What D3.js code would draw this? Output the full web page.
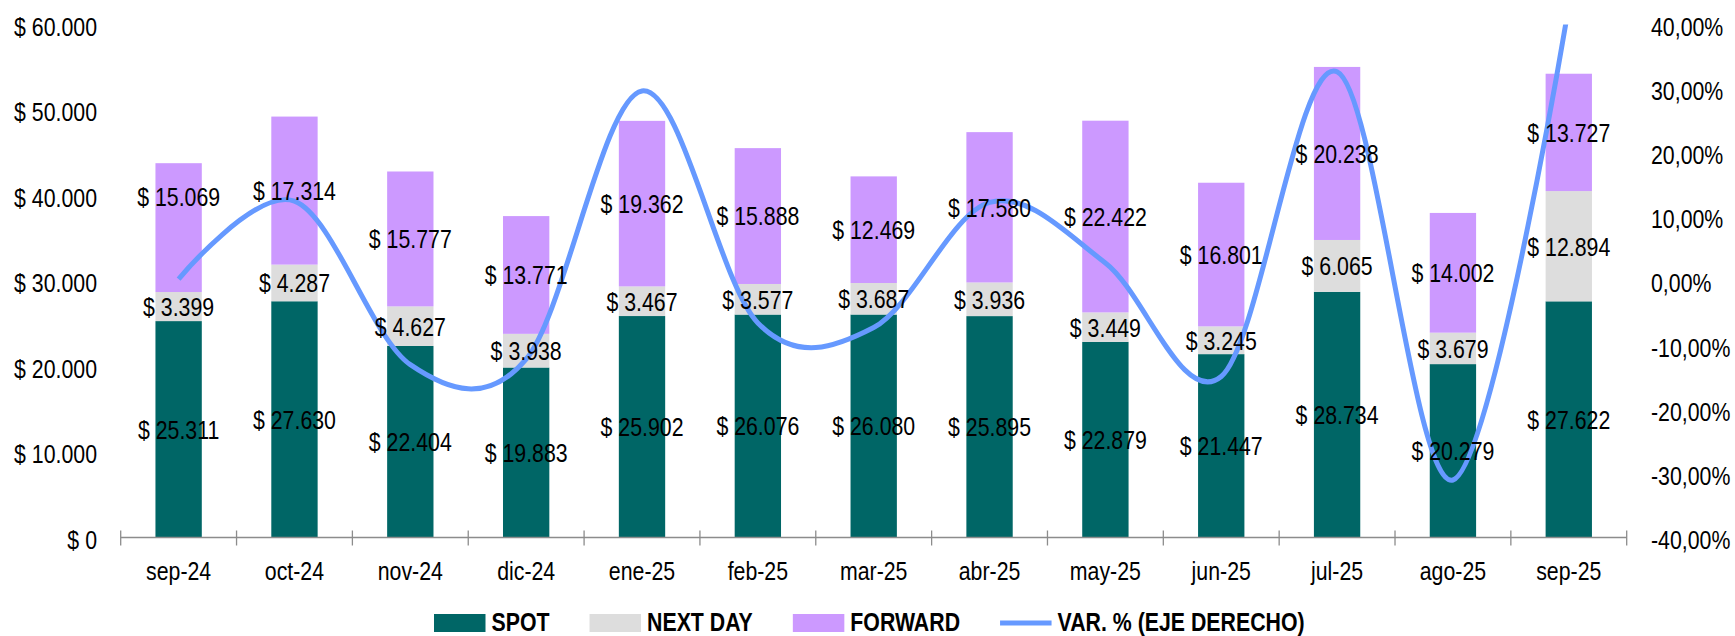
<!DOCTYPE html>
<html>
<head>
<meta charset="utf-8">
<script src="https://cdn.jsdelivr.net/npm/d3@7"></script>
<style>
  html, body { margin: 0; padding: 0; background: #ffffff; }
  svg { display: block; font-family: "Liberation Sans", Arial, sans-serif; }
</style>
</head>
<body>
<svg id="chart" width="1735" height="636"></svg>
<script>
// Monthly traded amounts by settlement type, plus month-over-month variation
const months  = ["sep-24", "oct-24", "nov-24", "dic-24", "ene-25", "feb-25", "mar-25",
                 "abr-25", "may-25", "jun-25", "jul-25", "ago-25", "sep-25"];
const spot    = [25311, 27630, 22404, 19883, 25902, 26076, 26080, 25895, 22879, 21447, 28734, 20279, 27622];
const nextDay = [3399, 4287, 4627, 3938, 3467, 3577, 3687, 3936, 3449, 3245, 6065, 3679, 12894];
const forward = [15069, 17314, 15777, 13771, 19362, 15888, 12469, 17580, 22422, 16801, 20238, 14002, 13727];
// VAR. % in percent
const varPct  = [0.3, 12.45, -13.05, -12.18, 29.63, -6.55, -7.26, 12.25, 2.82, -14.89, 32.64, -31.03, 42.90];

const leftTicks  = [0, 10000, 20000, 30000, 40000, 50000, 60000];
const rightTicks = [-0.4, -0.3, -0.2, -0.1, 0, 0.1, 0.2, 0.3, 0.4];

const seriesKeys   = ["spot", "nextDay", "forward"];
const seriesNames  = {spot: "SPOT", nextDay: "NEXT DAY", forward: "FORWARD"};
const seriesColors = {spot: "#006666", nextDay: "#dddddd", forward: "#cc99ff"};
const lineColor = "#6699ff";
const lineName = "VAR. % (EJE DERECHO)";

const locale = d3.formatLocale({decimal: ",", thousands: ".", grouping: [3], currency: ["$ ", ""], minus: "-"});
const fmtMoney = locale.format("$,.0f");
const fmtPct = locale.format(".2%");

const FONT = 26;      // px
const NARROW = 0.82;  // horizontal condensing of all chart text

const svg = d3.select("#chart");

const x = d3.scaleBand().domain(months).range([120.7, 1626.7]).paddingInner(0.6).paddingOuter(0.3);
const y = d3.scaleLinear().domain([0, 60000]).range([537.5, 24.5]);
const yR = d3.scaleLinear().domain([-0.4, 0.4]).range([537.5, 24.5]);

const rows = months.map((m, i) => ({month: m, spot: spot[i], nextDay: nextDay[i], forward: forward[i], v: varPct[i] / 100}));
const stacked = d3.stack().keys(seriesKeys)(rows);

// Stacked bars
const barLayer = svg.append("g");
stacked.forEach(layer => {
  barLayer.append("g")
    .attr("fill", seriesColors[layer.key])
    .selectAll("rect")
    .data(layer)
    .join("rect")
      .attr("x", d => x(d.data.month))
      .attr("width", x.bandwidth())
      .attr("y", d => y(d[1]))
      .attr("height", d => y(d[0]) - y(d[1]));
});

// Category axis: baseline with crossing ticks at the band boundaries
const axisG = svg.append("g").attr("stroke", "#8c8c8c").attr("stroke-width", 1.3);
const [x0, x1] = x.range();
axisG.append("line").attr("x1", x0).attr("x2", x1).attr("y1", y(0)).attr("y2", y(0));
axisG.selectAll("line.tick")
  .data(d3.range(months.length + 1))
  .join("line")
    .attr("class", "tick")
    .attr("x1", i => x0 + i * x.step())
    .attr("x2", i => x0 + i * x.step())
    .attr("y1", y(0) - 7)
    .attr("y2", y(0) + 8);

function condense(sel) {
  sel.attr("transform", `scale(${NARROW},1)`)
     .attr("font-size", FONT)
     .attr("fill", "#000");
}

// Month labels
const bottomAxis = svg.append("g")
  .attr("transform", `translate(0,${y(0)})`)
  .call(d3.axisBottom(x).tickSize(0).tickPadding(24));
bottomAxis.select(".domain").remove();
bottomAxis.selectAll("text").attr("font-family", null).call(condense);

// Left value axis
const leftAxis = svg.append("g")
  .attr("transform", "translate(97,0)")
  .call(d3.axisLeft(y).tickValues(leftTicks).tickFormat(fmtMoney).tickSize(0).tickPadding(0));
leftAxis.select(".domain").remove();
leftAxis.selectAll("text").attr("font-family", null).attr("dy", "0.42em").call(condense);

// Right percentage axis
const rightAxis = svg.append("g")
  .attr("transform", "translate(1651,0)")
  .call(d3.axisRight(yR).tickValues(rightTicks).tickFormat(fmtPct).tickSize(0).tickPadding(0));
rightAxis.select(".domain").remove();
rightAxis.selectAll("text").attr("font-family", null).attr("dy", "0.42em").call(condense);

// Variation line, smoothed and clipped to the plot area
svg.append("clipPath").attr("id", "plotClip")
  .append("rect")
    .attr("x", x0).attr("y", yR.range()[1])
    .attr("width", x1 - x0).attr("height", yR.range()[0] - yR.range()[1]);

const line = d3.line()
  .x(d => x(d.month) + x.bandwidth() / 2)
  .y(d => yR(d.v))
  .curve(d3.curveCardinal.tension(0));

svg.append("path")
  .datum(rows)
  .attr("clip-path", "url(#plotClip)")
  .attr("fill", "none")
  .attr("stroke", lineColor)
  .attr("stroke-width", 5)
  .attr("d", line);

// Value labels centred in each segment (one forward label lifted clear of the line)
const labelNudge = {"forward|sep-24": -31};
const labelLayer = svg.append("g");
stacked.forEach(layer => {
  layer.forEach(d => {
    const cx = x(d.data.month) + x.bandwidth() / 2;
    const cy = y((d[0] + d[1]) / 2) + (labelNudge[layer.key + "|" + d.data.month] || 0);
    labelLayer.append("text")
      .attr("transform", `translate(${cx},${cy}) scale(${NARROW},1)`)
      .attr("text-anchor", "middle")
      .attr("dy", "0.36em")
      .attr("font-size", FONT)
      .attr("fill", "#000")
      .text(fmtMoney(d.data[layer.key]));
  });
});

// Legend laid out left to right
const legendItems = seriesKeys.map(k => ({name: seriesNames[k], color: seriesColors[k], type: "box"}))
  .concat([{name: lineName, color: lineColor, type: "line"}]);
const legend = svg.append("g");
let lx = 434;
const swW = 51.5, swTop = 614, swH = 18, baseY = 631;
legendItems.forEach(item => {
  if (item.type === "box") {
    legend.append("rect").attr("x", lx).attr("y", swTop).attr("width", swW).attr("height", swH).attr("fill", item.color);
  } else {
    legend.append("line").attr("x1", lx).attr("x2", lx + swW).attr("y1", swTop + swH / 2).attr("y2", swTop + swH / 2)
      .attr("stroke", item.color).attr("stroke-width", 5);
  }
  const tx = lx + swW + 6;
  const t = legend.append("text")
    .attr("transform", `translate(${tx},${baseY}) scale(${NARROW},1)`)
    .attr("font-size", FONT)
    .attr("font-weight", "bold")
    .attr("fill", "#000")
    .text(item.name);
  lx = tx + t.node().getComputedTextLength() * NARROW + 40;
});
</script>
</body>
</html>
